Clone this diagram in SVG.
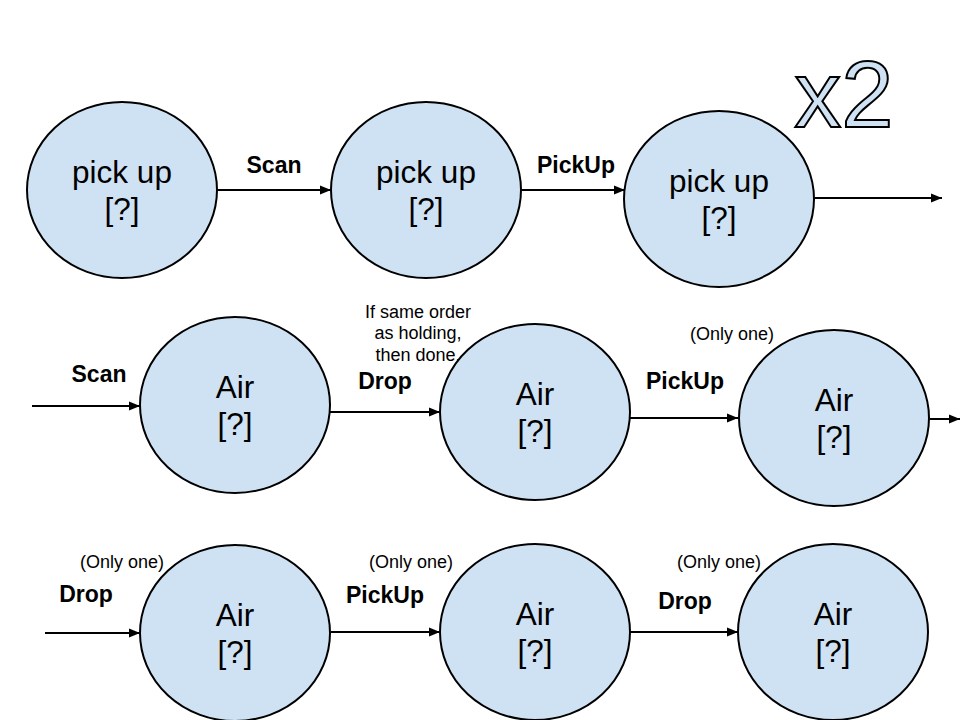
<svg xmlns="http://www.w3.org/2000/svg" width="960" height="720" viewBox="0 0 960 720">
<defs>
<marker id="ah" markerUnits="userSpaceOnUse" markerWidth="12" markerHeight="10" refX="11" refY="5" orient="auto">
<path d="M0,0.5 L11,5 L0,9.5 Z" fill="#000"/>
</marker>
<style>
.n{fill:#cfe2f3;stroke:#000;stroke-width:2}
.nt{font-family:"Liberation Sans",Arial,sans-serif;font-size:31.5px;fill:#000;text-anchor:middle}
.e{stroke:#000;stroke-width:2;fill:none;marker-end:url(#ah)}
.lb{font-family:"Liberation Sans",Arial,sans-serif;font-size:23px;font-weight:bold;fill:#000;text-anchor:middle}
.sm{font-family:"Liberation Sans",Arial,sans-serif;font-size:18px;fill:#000;text-anchor:middle}
.x2{font-family:"Liberation Sans",Arial,sans-serif;font-size:94px;fill:#cfe2f3;stroke:#000;stroke-width:2;text-anchor:middle}
</style>
</defs>
<rect width="960" height="720" fill="#fff"/>
<g id="connectors">
<line class="e" x1="217" y1="190" x2="331" y2="190"/>
<line class="e" x1="521" y1="190" x2="625" y2="190"/>
<line class="e" x1="815" y1="198" x2="942" y2="198"/>
<line class="e" x1="32" y1="406" x2="140" y2="406"/>
<line class="e" x1="330" y1="412" x2="440" y2="412"/>
<line class="e" x1="630" y1="418" x2="738" y2="418"/>
<line class="e" x1="930" y1="419" x2="960" y2="419"/>
<line class="e" x1="45" y1="633" x2="140" y2="633"/>
<line class="e" x1="331" y1="632" x2="440" y2="632"/>
<line class="e" x1="630" y1="632" x2="738" y2="632"/>
<text class="lb" x="274" y="173">Scan</text>
<text class="lb" x="576" y="173">PickUp</text>
<text class="lb" x="99" y="382">Scan</text>
<text class="lb" x="385" y="389">Drop</text>
<text class="lb" x="685" y="389">PickUp</text>
<text class="sm" x="418" y="318">If same order</text>
<text class="sm" x="418" y="339">as holding,</text>
<text class="sm" x="418" y="361">then done,</text>
<text class="sm" x="732" y="340">(Only one)</text>
<text class="sm" x="122" y="568">(Only one)</text>
<text class="lb" x="86" y="602">Drop</text>
<text class="sm" x="411" y="568">(Only one)</text>
<text class="lb" x="385" y="603">PickUp</text>
<text class="sm" x="719" y="568">(Only one)</text>
<text class="lb" x="685" y="609">Drop</text>
</g>
<g id="n1"><ellipse class="n" cx="122" cy="190" rx="95" ry="88"/><text class="nt" x="122" y="183">pick up</text><text class="nt" x="122" y="220">[?]</text></g>
<g id="n2"><ellipse class="n" cx="426" cy="190" rx="95" ry="88"/><text class="nt" x="426" y="183">pick up</text><text class="nt" x="426" y="220">[?]</text></g>
<g id="n3"><ellipse class="n" cx="719" cy="199" rx="95" ry="88"/><text class="nt" x="719" y="192">pick up</text><text class="nt" x="719" y="229">[?]</text></g>
<g id="n4"><ellipse class="n" cx="235" cy="405" rx="95" ry="88"/><text class="nt" x="235" y="398">Air</text><text class="nt" x="235" y="435">[?]</text></g>
<g id="n5"><ellipse class="n" cx="535" cy="412" rx="95" ry="88"/><text class="nt" x="535" y="405">Air</text><text class="nt" x="535" y="442">[?]</text></g>
<g id="n6"><ellipse class="n" cx="834" cy="418" rx="95" ry="88"/><text class="nt" x="834" y="411">Air</text><text class="nt" x="834" y="448">[?]</text></g>
<g id="n7"><ellipse class="n" cx="235" cy="633" rx="95" ry="88"/><text class="nt" x="235" y="626">Air</text><text class="nt" x="235" y="663">[?]</text></g>
<g id="n8"><ellipse class="n" cx="535" cy="632" rx="95" ry="88"/><text class="nt" x="535" y="625">Air</text><text class="nt" x="535" y="662">[?]</text></g>
<g id="n9"><ellipse class="n" cx="833" cy="632" rx="95" ry="88"/><text class="nt" x="833" y="625">Air</text><text class="nt" x="833" y="662">[?]</text></g>
<g id="x2"><text class="x2" x="844" y="127">x2</text></g>
</svg>
